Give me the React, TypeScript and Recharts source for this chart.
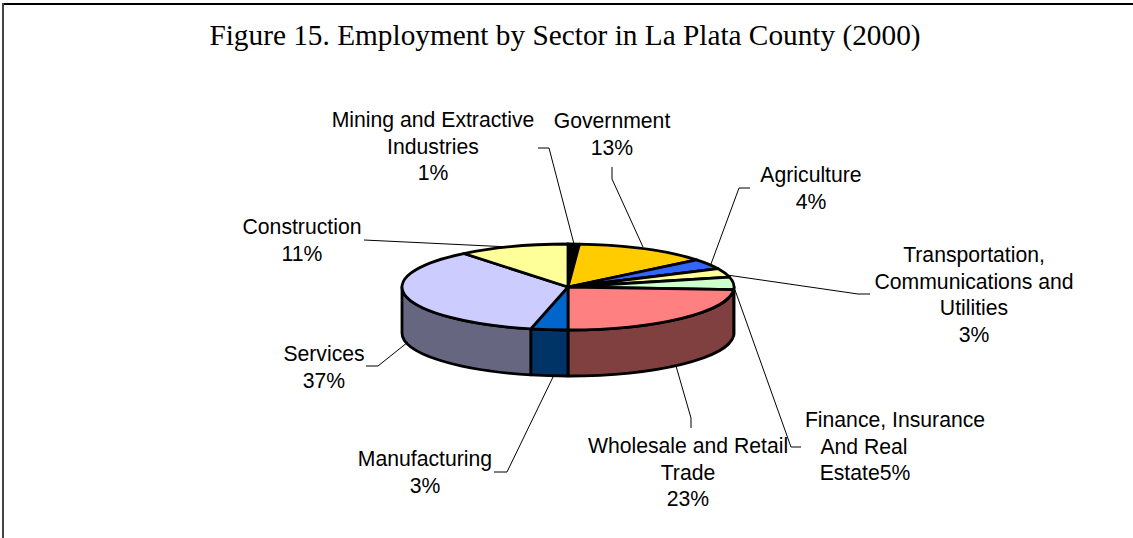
import React from "react";
import { PieChart, Pie, Cell } from "recharts";

const sectors = ["Mining and Extractive Industries","Government","Agriculture","Transportation, Communications and Utilities","Finance, Insurance And Real Estate","Wholesale and Retail Trade","Manufacturing","Services","Construction"];
const shares = [1.1, 13, 3.9, 3.3, 4.7, 24, 3.6, 35.6, 10.8];
const topColors = ["#000000","#FFCC00","#3366FF","#FFFF99","#CCFFCC","#FF8080","#0066CC","#CCCCFF","#FFFF99"];
const wallColors = ["#000000","#806600","#1A3380","#80804D","#668066","#804040","#003366","#666680","#80804D"];
const labelLines = [
  ["Mining and Extractive", "Industries", "1%"],
  ["Government", "13%"],
  ["Agriculture", "4%"],
  ["Transportation,", "Communications and", "Utilities", "3%"],
  ["Finance, Insurance", "And Real", "Estate5%"],
  ["Wholesale and Retail", "Trade", "23%"],
  ["Manufacturing", "3%"],
  ["Services", "37%"],
  ["Construction", "11%"],
];
// text anchor (centre x, first baseline y) for every label
const labelPos = [
  [433, 127], [612, 128], [811, 182], [974, 262], [865, 427], [688, 453], [425, 466], [324, 361], [302, 234],
];
// horizontal nudge of the individual lines of a label
const lineShift: Record<number, number[]> = { 4: [30, -1, 0] };
const leaderPaths = [
  "M538,148 L549,148 L574,244",
  "M612,167 L612,179 L643,247",
  "M750,188 L739,188 L711,264",
  "M870,294 L858,294 L727,275",
  "M801,447 L791,447 L735,290",
  "M691,428 L691,418 L676,366",
  "M494,472 L507,472 L553,377",
  "M366,366 L378,366 L408,342",
  "M364,240 L510,247",
];

const CX = 568, CY = 287, RX = 166, RY = 43, DEPTH = 46;
const chartData = sectors.map((name, i) => ({ name, value: shares[i], fill: topColors[i] }));

const pt = (deg: number) => {
  const a = (deg * Math.PI) / 180;
  return [CX + RX * Math.cos(a), CY - RY * Math.sin(a)];
};

function SliceShape(props: any) {
  const { startAngle, endAngle, index } = props;
  const hi = Math.max(startAngle, endAngle), lo = Math.min(startAngle, endAngle);
  const [sx, sy] = pt(hi), [ex, ey] = pt(lo);
  const large = hi - lo > 180 ? 1 : 0;
  const top = `M${CX},${CY} L${sx},${sy} A${RX},${RY} 0 ${large} 1 ${ex},${ey} Z`;
  // the visible wall is the part of the arc on the front half of the ellipse
  const from = Math.min(hi, 0), to = Math.max(lo, -180);
  let wall: string | null = null;
  if (from > to) {
    const [wx0, wy0] = pt(from), [wx1, wy1] = pt(to);
    wall = `M${wx0},${wy0} A${RX},${RY} 0 0 1 ${wx1},${wy1} L${wx1},${wy1 + DEPTH} A${RX},${RY} 0 0 0 ${wx0},${wy0 + DEPTH} Z`;
  }
  return (
    <g>
      {wall && <path d={wall} fill={wallColors[index]} stroke="#000" strokeWidth={2.8} strokeLinejoin="round" />}
      <path d={top} fill={topColors[index]} stroke="#000" strokeWidth={2.8} strokeLinejoin="round" />
    </g>
  );
}

export default function App() {
  return (
    <div style={{ position: "absolute", left: 0, top: 0, width: 1133, height: 538, background: "#fff", overflow: "hidden" }}>
      <div style={{ position: "absolute", left: 2, top: 3, width: 1131, height: 2, background: "#000" }} />
      <div style={{ position: "absolute", left: 2, top: 3, width: 2, height: 535, background: "#444" }} />
      <div style={{ position: "absolute", left: 0, top: 0 }}>
        <PieChart width={1133} height={538} margin={{ top: 0, right: 0, bottom: 0, left: 0 }}>
          <text x={565} y={45} textAnchor="middle" fontFamily="'Liberation Serif'" fontSize={29.3} fill="#000">
            Figure 15. Employment by Sector in La Plata County (2000)
          </text>
          <Pie
            data={chartData}
            dataKey="value"
            nameKey="name"
            cx={CX}
            cy={CY}
            outerRadius={RX}
            startAngle={90}
            endAngle={-270}
            isAnimationActive={false}
            labelLine={false}
            shape={SliceShape as any}
            label={(p: any) => {
              const lines = labelLines[p.index];
              const [x, y] = labelPos[p.index];
              const shift = lineShift[p.index] || [];
              return (
                <g key={p.index}>
                  <path d={leaderPaths[p.index]} fill="none" stroke="#000" strokeWidth={1} />
                  <text x={x} y={y} textAnchor="middle" fontFamily="'Liberation Sans'" fontSize={21.2} fill="#000">
                    {lines.map((t, i) => (
                      <tspan key={i} x={x + (shift[i] || 0)} dy={i === 0 ? 0 : 26.5}>{t}</tspan>
                    ))}
                  </text>
                </g>
              );
            }}
          >
            {chartData.map((d) => (
              <Cell key={d.name} fill={d.fill} />
            ))}
          </Pie>
        </PieChart>
      </div>
    </div>
  );
}
